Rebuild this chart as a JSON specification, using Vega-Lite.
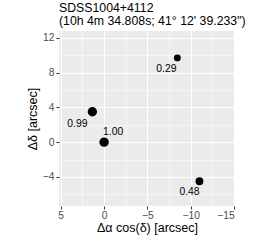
{
  "$schema": "https://vega.github.io/schema/vega-lite/v6.json",
  "width": 176,
  "height": 175,
  "autosize": "none",
  "padding": {"left": 59, "top": 31, "right": 23, "bottom": 38},
  "background": "white",
  "config": {
    "font": "Liberation Sans",
    "view": {"fill": "#EBEBEB", "stroke": null},
    "axis": {
      "domain": false,
      "gridColor": "white",
      "tickColor": "#333333",
      "tickSize": 3,
      "labelColor": "#4D4D4D",
      "labelFontSize": 10.3,
      "labelFont": "Liberation Sans",
      "titleFont": "Liberation Sans",
      "titleFontSize": 12.5,
      "titleFontWeight": "normal",
      "titleColor": "black"
    }
  },
  "title": {
    "text": ["SDSS1004+4112", "(10h 4m 34.808s; 41° 12' 39.233\")"],
    "anchor": "start",
    "frame": "group",
    "fontSize": 12.3,
    "fontWeight": "normal",
    "font": "Liberation Sans",
    "color": "black",
    "lineHeight": 13,
    "offset": 4
  },
  "data": {
    "values": [
      {"dx": 0, "dy": 0, "p": 1.0, "label": "1.00"},
      {"dx": 1.35, "dy": 3.5, "p": 0.99, "label": "0.99"},
      {"dx": -8.45, "dy": 9.7, "p": 0.29, "label": "0.29"},
      {"dx": -11.0, "dy": -4.5, "p": 0.48, "label": "0.48"}
    ]
  },
  "encoding": {
    "x": {
      "field": "dx", "type": "quantitative",
      "scale": {"domain": [-15.1, 5.2], "reverse": true, "nice": false, "zero": false},
      "axis": {
        "title": "Δα cos(δ) [arcsec]",
        "values": [5, 2.5, 0, -2.5, -5, -7.5, -10, -12.5, -15],
        "labelExpr": "datum.value % 5 === 0 ? replace(datum.label, '-', '−') : ''",
        "gridWidth": {"condition": {"test": "datum.value % 5 === 0", "value": 1.1}, "value": 0.5},
        "tickOpacity": {"condition": {"test": "datum.value % 5 === 0", "value": 1}, "value": 0},
        "labelPadding": 1,
        "titlePadding": 1
      }
    },
    "y": {
      "field": "dy", "type": "quantitative",
      "scale": {"domain": [-7.35, 12.8], "nice": false, "zero": false},
      "axis": {
        "title": "Δδ [arcsec]",
        "values": [-6, -4, -2, 0, 2, 4, 6, 8, 10, 12],
        "labelExpr": "datum.value % 4 === 0 ? replace(datum.label, '-', '−') : ''",
        "gridWidth": {"condition": {"test": "datum.value % 4 === 0", "value": 1.1}, "value": 0.5},
        "tickOpacity": {"condition": {"test": "datum.value % 4 === 0", "value": 1}, "value": 0},
        "labelPadding": 2,
        "titlePadding": 3
      }
    }
  },
  "layer": [
    {
      "mark": {"type": "circle", "color": "black", "opacity": 1},
      "encoding": {
        "size": {"field": "p", "type": "quantitative", "legend": null,
          "scale": {"type": "sqrt", "domain": [0, 1], "range": [0, 88]}}
      }
    },
    {
      "transform": [{"filter": "datum.label === '1.00'"}],
      "mark": {"type": "text", "fontSize": 10.3, "dx": 9, "dy": -10, "color": "black"},
      "encoding": {"text": {"field": "label"}}
    },
    {
      "transform": [{"filter": "datum.label === '0.99'"}],
      "mark": {"type": "text", "fontSize": 10.3, "dx": -15, "dy": 12, "color": "black"},
      "encoding": {"text": {"field": "label"}}
    },
    {
      "transform": [{"filter": "datum.label === '0.29'"}],
      "mark": {"type": "text", "fontSize": 10.3, "dx": -11, "dy": 11, "color": "black"},
      "encoding": {"text": {"field": "label"}}
    },
    {
      "transform": [{"filter": "datum.label === '0.48'"}],
      "mark": {"type": "text", "fontSize": 10.3, "dx": -10, "dy": 11, "color": "black"},
      "encoding": {"text": {"field": "label"}}
    }
  ]
}
